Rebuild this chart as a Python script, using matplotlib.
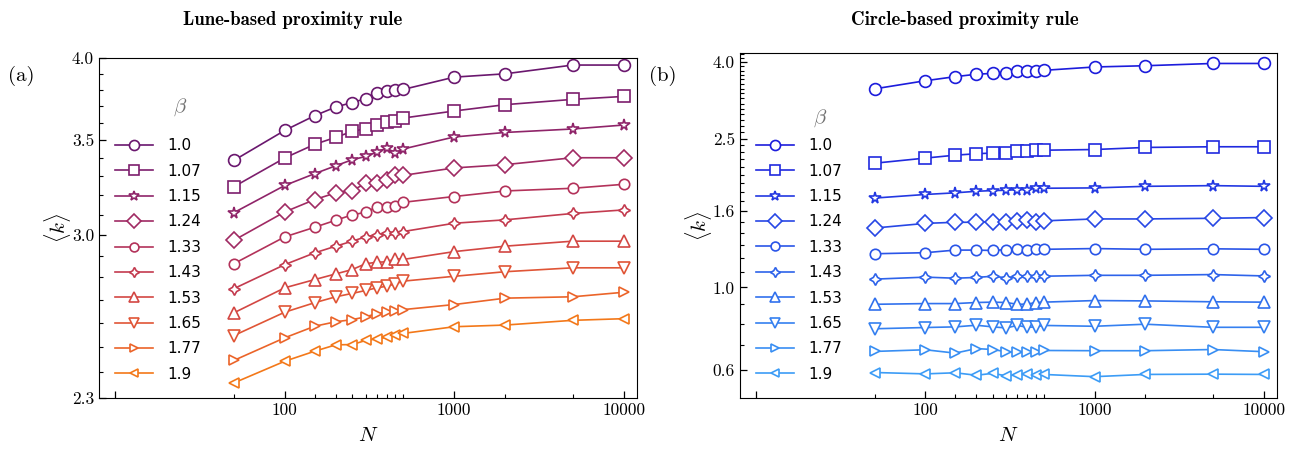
import numpy as np
import matplotlib
matplotlib.use("Agg")
import matplotlib.pyplot as plt
from matplotlib.ticker import FixedLocator, FixedFormatter, NullFormatter
from matplotlib.colors import LinearSegmentedColormap

plt.rcParams['font.family'] = 'serif'
plt.rcParams['font.serif'] = ['cmr10', 'DejaVu Serif']
plt.rcParams['mathtext.fontset'] = 'cm'
plt.rcParams['axes.formatter.use_mathtext'] = True

N = [50, 100, 150, 200, 250, 300, 350, 400, 450, 500, 1000, 2000, 5000, 10000]
betas = ['1.0', '1.07', '1.15', '1.24', '1.33', '1.43', '1.53', '1.65', '1.77', '1.9']

# lune-based rule, <k> per beta
k_lune_10 = [3.386, 3.556, 3.642, 3.694, 3.721, 3.744, 3.779, 3.793, 3.795, 3.801, 3.878, 3.899, 3.955, 3.955]
k_lune_107 = [3.244, 3.400, 3.476, 3.516, 3.550, 3.566, 3.585, 3.605, 3.613, 3.628, 3.670, 3.708, 3.740, 3.758]
k_lune_115 = [3.110, 3.251, 3.314, 3.357, 3.390, 3.408, 3.433, 3.455, 3.427, 3.450, 3.518, 3.544, 3.564, 3.587]
k_lune_124 = [2.973, 3.114, 3.177, 3.212, 3.224, 3.262, 3.264, 3.282, 3.309, 3.305, 3.345, 3.363, 3.401, 3.401]
k_lune_133 = [2.862, 2.990, 3.037, 3.072, 3.099, 3.112, 3.140, 3.140, 3.143, 3.163, 3.193, 3.222, 3.236, 3.257]
k_lune_143 = [2.748, 2.858, 2.913, 2.945, 2.969, 2.990, 3.001, 3.010, 3.011, 3.016, 3.057, 3.074, 3.106, 3.124]
k_lune_153 = [2.642, 2.752, 2.789, 2.815, 2.835, 2.862, 2.869, 2.871, 2.886, 2.882, 2.919, 2.945, 2.969, 2.969]
k_lune_165 = [2.546, 2.645, 2.686, 2.712, 2.727, 2.740, 2.752, 2.759, 2.770, 2.782, 2.804, 2.825, 2.843, 2.843]
k_lune_177 = [2.445, 2.537, 2.585, 2.604, 2.613, 2.625, 2.639, 2.645, 2.649, 2.656, 2.678, 2.706, 2.712, 2.732]
k_lune_19 = [2.357, 2.442, 2.482, 2.508, 2.509, 2.526, 2.533, 2.539, 2.550, 2.555, 2.583, 2.590, 2.610, 2.617]

# circle-based rule, <k> per beta
k_circ_10 = [3.395, 3.57, 3.66, 3.715, 3.735, 3.755, 3.785, 3.795, 3.795, 3.805, 3.885, 3.915, 3.97, 3.97]
k_circ_107 = [2.148, 2.217, 2.257, 2.277, 2.287, 2.287, 2.317, 2.317, 2.327, 2.327, 2.337, 2.367, 2.377, 2.377]
k_circ_115 = [1.733, 1.772, 1.790, 1.807, 1.815, 1.818, 1.826, 1.826, 1.841, 1.841, 1.845, 1.863, 1.871, 1.863]
k_circ_124 = [1.441, 1.483, 1.493, 1.493, 1.500, 1.493, 1.506, 1.516, 1.500, 1.506, 1.524, 1.524, 1.530, 1.537]
k_circ_133 = [1.230, 1.238, 1.258, 1.258, 1.255, 1.262, 1.264, 1.255, 1.268, 1.264, 1.270, 1.264, 1.268, 1.264]
k_circ_143 = [1.052, 1.065, 1.058, 1.063, 1.071, 1.061, 1.070, 1.070, 1.070, 1.071, 1.077, 1.077, 1.082, 1.073]
k_circ_153 = [0.901, 0.905, 0.905, 0.911, 0.913, 0.911, 0.901, 0.902, 0.911, 0.913, 0.922, 0.920, 0.915, 0.913]
k_circ_165 = [0.775, 0.781, 0.784, 0.792, 0.784, 0.779, 0.791, 0.782, 0.784, 0.791, 0.787, 0.797, 0.782, 0.782]
k_circ_177 = [0.674, 0.681, 0.667, 0.686, 0.682, 0.673, 0.670, 0.673, 0.670, 0.678, 0.677, 0.677, 0.682, 0.673]
k_circ_19 = [0.592, 0.587, 0.591, 0.582, 0.589, 0.580, 0.584, 0.586, 0.582, 0.585, 0.577, 0.585, 0.586, 0.585]

k_lune = [k_lune_10, k_lune_107, k_lune_115, k_lune_124, k_lune_133,
          k_lune_143, k_lune_153, k_lune_165, k_lune_177, k_lune_19]
k_circ = [k_circ_10, k_circ_107, k_circ_115, k_circ_124, k_circ_133,
          k_circ_143, k_circ_153, k_circ_165, k_circ_177, k_circ_19]

markers = ['o', 's', '*', 'D', 'o', (4, 1, 0), '^', 'v', '>', '<']
msizes = [8.5, 8.5, 8.5, 8.5, 7.5, 8.5, 8.5, 8.5, 7.5, 7.5]

lune_colors = plt.cm.inferno(np.linspace(0.3, 0.7, len(betas)))
blue_map = LinearSegmentedColormap.from_list('bl', ['#1c1cdc', '#3c9cf6'])
circ_colors = blue_map(np.linspace(0, 1, len(betas)))

fig = plt.figure(figsize=(13.06, 4.49), dpi=100)
ax1 = fig.add_axes([0.0758, 0.1136, 0.412, 0.757])
ax2 = fig.add_axes([0.5666, 0.1136, 0.4112, 0.768])


def draw(ax, data, colors, yticks, ylim, leg_y, beta_y):
    for vals, lab, m, ms, c in zip(data, betas, markers, msizes, colors):
        ax.plot(N, vals, marker=m, ms=ms, color=c, mfc='white', mec=c,
                mew=1.2, lw=1.2, label=lab)
    ax.set_xscale('log')
    ax.set_yscale('log')
    ax.set_xlim(8, 12000)
    ax.set_ylim(*ylim)
    majors = [10, 100, 1000, 10000]
    ax.xaxis.set_major_locator(FixedLocator(majors))
    ax.xaxis.set_major_formatter(FixedFormatter(['', '100', '1000', '10000']))
    ax.xaxis.set_minor_locator(FixedLocator([n for n in N if n not in majors]))
    ax.xaxis.set_minor_formatter(NullFormatter())
    ax.yaxis.set_major_locator(FixedLocator(yticks))
    ax.yaxis.set_major_formatter(FixedFormatter(['%.1f' % t for t in yticks]))
    ax.yaxis.set_minor_locator(FixedLocator(np.arange(0.5, 4.25, 0.1)))
    ax.yaxis.set_minor_formatter(NullFormatter())
    ax.tick_params(which='both', direction='in', labelsize=12.5)
    ax.tick_params(which='major', length=5, width=0.9)
    ax.tick_params(which='minor', length=3, width=0.8)
    ax.set_xlabel(r'$N$', fontsize=15, labelpad=6)
    ax.set_ylabel(r'$\langle k\rangle$', fontsize=15, labelpad=-1)
    ax.legend(loc='upper left', bbox_to_anchor=(0.0186, leg_y), borderaxespad=0,
              frameon=False, handlelength=2.5, markerscale=0.85,
              prop={'family': 'DejaVu Sans', 'size': 11},
              labelspacing=0.68, handletextpad=0.92)
    ax.text(0.15, beta_y, r'$\beta$', transform=ax.transAxes, fontsize=15,
            color='#707070', ha='center', va='center')


draw(ax1, k_lune, lune_colors, [2.3, 3.0, 3.5, 4.0], (2.3, 4.0), 0.782, 0.856)
draw(ax2, k_circ, circ_colors, [0.6, 1.0, 1.6, 2.5, 4.0], (0.506, 4.23), 0.771, 0.812)

fig.text(0.224, 0.955, 'Lune-based proximity rule', fontsize=13.5,
         family='cmb10', ha='center', va='center')
fig.text(0.739, 0.955, 'Circle-based proximity rule', fontsize=13.5,
         family='cmb10', ha='center', va='center')
fig.text(0.006, 0.83, '(a)', fontsize=15, ha='left', va='center')
fig.text(0.497, 0.83, '(b)', fontsize=15, ha='left', va='center')

fig.savefig('out.png', dpi=100)
